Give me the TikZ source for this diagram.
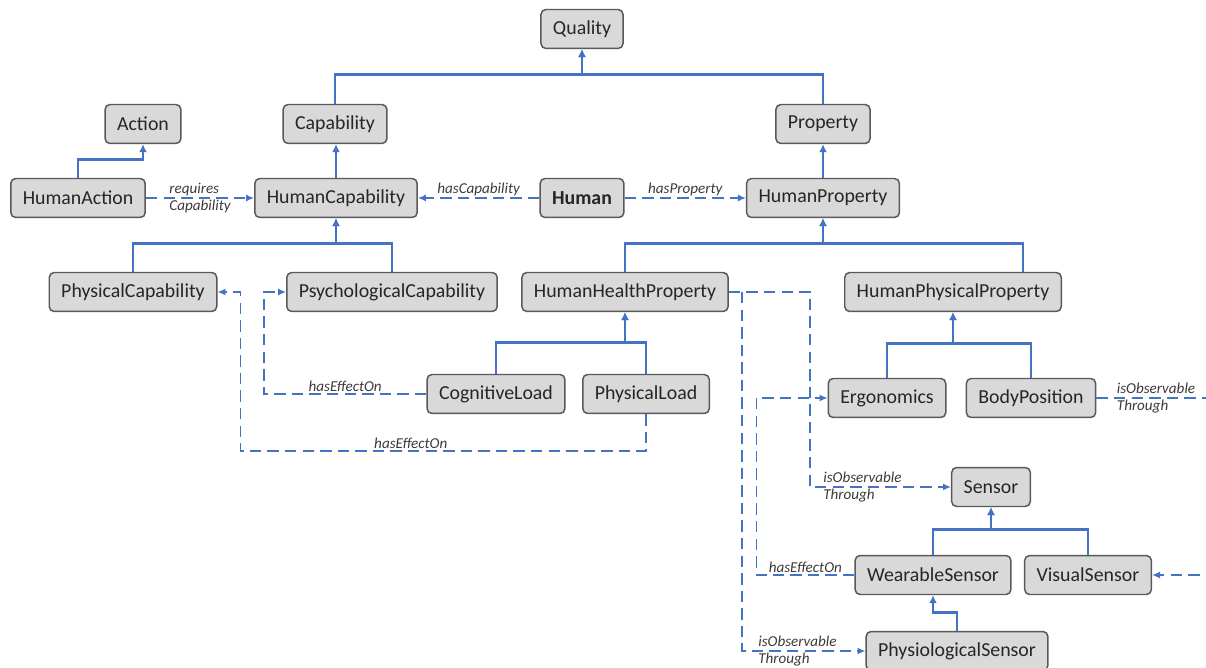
\documentclass[tikz,border=0pt]{standalone}
\usepackage{fontspec}
\setmainfont{Carlito}
\usepackage{tikz}
\usetikzlibrary{arrows.meta}
\definecolor{linkblue}{HTML}{4472C4}
\definecolor{boxfill}{HTML}{D9D9D9}
\definecolor{boxline}{HTML}{595959}
\definecolor{lbltext}{HTML}{3A3A3A}
\tikzstyle{cls} = [rectangle, rounded corners=2.8pt, minimum height=0.78cm, inner xsep=0.24cm, text centered, draw=boxline, fill=boxfill, line width=0.85pt, text=black!85, font=\fontsize{11.3}{13}\selectfont]
\tikzstyle{isa} = [draw=linkblue, line width=1.5pt, -{Latex[length=4.5pt,width=4.5pt]}]
\tikzstyle{rel} = [draw=linkblue, line width=0.85pt, dash pattern=on 6.5pt off 3.5pt, -{Latex[length=4.5pt,width=4pt]}]
\tikzstyle{lbl} = [font=\fontsize{8.6}{10}\selectfont\itshape, text=lbltext, inner sep=1pt]

\begin{document}
\begin{tikzpicture}[x=0.02cm, y=-0.02cm]
			\useasboundingbox (0,0) rectangle (1206,668);
			\clip (0,0) rectangle (1206,668);
			% classes
			\node[cls](quality) at (582,29){Quality};
			\node[cls](action) at (143,124){Action};
			\node[cls](capability) at (335,124){Capability};
			\node[cls](property) at (823,124){Property};
			\node[cls](haction) at (78,198){HumanAction};
			\node[cls](hcap) at (336,198){HumanCapability};
			\node[cls, font=\fontsize{11.3}{13}\selectfont\bfseries](human) at (582,198){Human};
			\node[cls](hprop) at (823,198){HumanProperty};
			\node[cls](physcap) at (133,292){PhysicalCapability};
			\node[cls](psychcap) at (392,292){PsychologicalCapability};
			\node[cls](hhp) at (625,292){HumanHealthProperty};
			\node[cls](hpp) at (953,292){HumanPhysicalProperty};
			\node[cls](cogload) at (496,394){CognitiveLoad};
			\node[cls](physload) at (646,394){PhysicalLoad};
			\node[cls](ergo) at (887,398){Ergonomics};
			\node[cls](bodypos) at (1031,398){BodyPosition};
			\node[cls](sensor) at (991,487){Sensor};
			\node[cls](wear) at (933,575){WearableSensor};
			\node[cls](visual) at (1088,575){VisualSensor};
			\node[cls](physio) at (957,651){PhysiologicalSensor};
			% subclass links
			\draw[isa] (capability.north) -- ++(0,-29) -| (quality.south);
			\draw[isa] (property.north) -- ++(0,-29) -| (quality.south);
			\draw[isa] (haction.north) -- ++(0,-18) -| (action.south);
			\draw[isa] (hcap.north) -- (hcap.north |- capability.south);
			\draw[isa] (hprop.north) -- (hprop.north |- property.south);
			\draw[isa] (physcap.north) -- ++(0,-28) -| (hcap.south);
			\draw[isa] (psychcap.north) -- ++(0,-28) -| (hcap.south);
			\draw[isa] (hhp.north) -- ++(0,-28) -| (hprop.south);
			\draw[isa] ([xshift=1.4cm]hpp.north) -- ++(0,-28) -| (hprop.south);
			\draw[isa] (cogload.north) -- ++(0,-31) -| (hhp.south);
			\draw[isa] (physload.north) -- ++(0,-31) -| (hhp.south);
			\draw[isa] (ergo.north) -- ++(0,-34) -| (hpp.south);
			\draw[isa] (bodypos.north) -- ++(0,-34) -| (hpp.south);
			\draw[isa] (wear.north) -- ++(0,-25) -| (sensor.south);
			\draw[isa] (visual.north) -- ++(0,-25) -| (sensor.south);
			\draw[isa] (physio.north) -- ++(0,-18) -| (wear.south);
			% object properties
			\draw[rel] (haction.east) -- node[lbl, align=left]{requires\\Capability} (hcap.west);
			\draw[rel] (human.west) -- node[lbl, above]{hasCapability} (hcap.east);
			\draw[rel] (human.east) -- node[lbl, above]{hasProperty} (hprop.west);
			\draw[rel] (cogload.west) -| node[lbl, above, pos=.25]{hasEffectOn} ([xshift=-0.44cm]psychcap.west) -- (psychcap.west);
			\draw[rel] (physload.south) -- ++(0,37) -| node[lbl, above, pos=.29]{hasEffectOn} ([xshift=0.46cm]physcap.east) -- (physcap.east);
			\draw[rel] (hhp.east) -- ++(81,0) |- node[lbl, pos=.5, anchor=west, align=left, xshift=0.22cm]{isObservable\\Through} (sensor.west);
			\draw[rel] ([xshift=0.26cm]hhp.east) |- node[lbl, pos=.5, anchor=west, align=left, xshift=0.28cm]{isObservable\\Through} (physio.west);
			\draw[rel] (wear.west) -- node[lbl, above]{hasEffectOn} ++(-98,0) |- (ergo.west);
			\draw[rel] (bodypos.east) -- node[lbl, pos=0, anchor=west, align=left, xshift=0.36cm]{isObservable\\Through} ++(130,0) |- (visual.east);
		\end{tikzpicture}
\end{document}
